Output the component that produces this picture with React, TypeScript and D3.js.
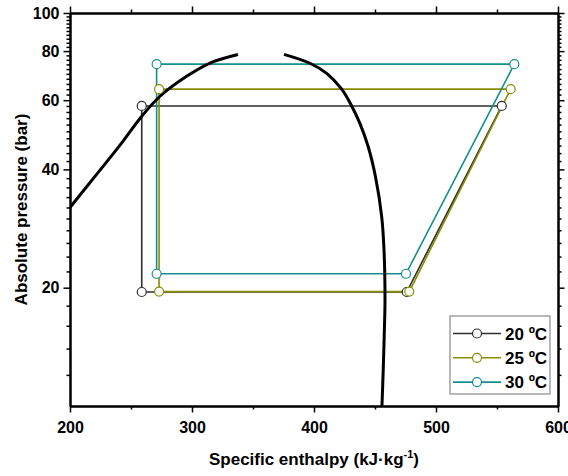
import React, { useRef, useEffect } from 'react';
import * as d3 from 'd3';

// cycle temperatures (legend)
const seriesNames = ['20 ºC', '25 ºC', '30 ºC'];
const seriesColors = ['#2e2e2e', '#8c8c00', '#12908e'];

// cycle corners [enthalpy kJ/kg, pressure bar]: gas cooler out, compressor out, compressor in, expansion out
const cycle20 = [[258.8, 58.0], [553.9, 58.0], [476.0, 19.5], [258.8, 19.5]];
const cycle25 = [[273.0, 64.0], [561.2, 64.0], [478.1, 19.55], [273.0, 19.55]];
const cycle30 = [[271.0, 74.1], [564.2, 74.1], [475.4, 21.7], [271.0, 21.7]];
const cycles = [cycle20, cycle25, cycle30];

// saturation dome
const liquidLine = [
  [200.0, 32.0], [220.5, 38.4], [241.0, 46.1], [259.0, 54.7], [273.8, 61.4],
  [295.9, 69.1], [314.8, 74.6], [337.7, 78.4]
];
const vaporLine = [
  [375.4, 78.5], [396.7, 74.5], [410.4, 70.2], [422.7, 64.0], [430.9, 58.0],
  [437.7, 52.3], [444.5, 45.6], [450.4, 38.3], [455.5, 30.3], [457.4, 24.9],
  [458.2, 18.6], [457.6, 15.3], [456.8, 12.5], [455.7, 10.0]
];

const xTicks = [200, 300, 400, 500, 600];
const xMinorTicks = [250, 350, 450, 550];
const yTicks = [20, 40, 60, 80, 100];
const yMinorTicks = [12, 14, 16, 18, 22, 24, 26, 28, 30, 32, 34, 36, 38, 42, 44, 46, 48, 50,
  52, 54, 56, 58, 62, 64, 66, 68, 70, 72, 74, 76, 78, 82, 84, 86, 88, 90, 92, 94, 96, 98];

function App() {
  const svgRef = useRef(null);

  useEffect(() => {
    const W = 568, H = 476;
    const margin = { top: 13, right: 10, bottom: 70, left: 70 };
    const width = W - margin.left - margin.right;
    const height = H - margin.top - margin.bottom;
    const font = 'Liberation Sans, Arial, sans-serif';

    const root = d3.select(svgRef.current);
    root.selectAll('*').remove();
    root.attr('width', W).attr('height', H);

    const svg = root.append('g')
      .attr('transform', 'translate(' + margin.left + ',' + margin.top + ')');

    const x = d3.scaleLinear().domain([200, 600]).range([0, width]);
    const y = d3.scaleLog().domain([10, 100]).range([height, 0]);

    svg.append('clipPath').attr('id', 'plotclip')
      .append('rect').attr('width', width).attr('height', height);

    const plot = svg.append('g').attr('clip-path', 'url(#plotclip)');

    // cycles
    const cycleLine = d3.line()
      .x(d => x(d[0]))
      .y(d => y(d[1]))
      .curve(d3.curveLinearClosed);

    cycles.forEach((c, i) => {
      plot.append('path')
        .datum(c)
        .attr('fill', 'none')
        .attr('stroke', seriesColors[i])
        .attr('stroke-width', 1.6)
        .attr('d', cycleLine);
    });

    // dome on top
    const domeLine = d3.line()
      .x(d => x(d[0]))
      .y(d => y(d[1]))
      .curve(d3.curveCatmullRom);
    [liquidLine, vaporLine].forEach(b => {
      plot.append('path')
        .datum(b)
        .attr('fill', 'none')
        .attr('stroke', '#000')
        .attr('stroke-width', 3)
        .attr('d', domeLine);
    });

    // markers
    cycles.forEach((c, i) => {
      svg.selectAll(null)
        .data(c)
        .enter()
        .append('circle')
        .attr('cx', d => x(d[0]))
        .attr('cy', d => y(d[1]))
        .attr('r', 4.5)
        .attr('fill', '#fff')
        .attr('stroke', seriesColors[i])
        .attr('stroke-width', 1.2);
    });

    // axes
    const styleAxis = (g, labels) => {
      g.select('.domain').attr('stroke', '#000').attr('stroke-width', 2);
      g.selectAll('.tick line').attr('stroke', '#000').attr('stroke-width', 1.5);
      g.selectAll('text')
        .attr('font-family', font)
        .attr('font-weight', 'bold')
        .attr('font-size', 16)
        .attr('fill', '#000');
      if (!labels) g.selectAll('text').remove();
    };

    const fmt = d3.format('d');
    svg.append('g').attr('transform', 'translate(0,' + height + ')')
      .call(d3.axisBottom(x).tickValues(xMinorTicks).tickSize(3.5).tickSizeOuter(0).tickFormat(() => ''))
      .call(g => styleAxis(g, false));
    svg.append('g').attr('transform', 'translate(0,' + height + ')')
      .call(d3.axisBottom(x).tickValues(xTicks).tickSize(6.5).tickSizeOuter(0).tickPadding(9).tickFormat(fmt))
      .call(g => styleAxis(g, true));

    svg.append('g')
      .call(d3.axisTop(x).tickValues(xMinorTicks).tickSize(3.5).tickSizeOuter(0))
      .call(g => styleAxis(g, false));
    svg.append('g')
      .call(d3.axisTop(x).tickValues(xTicks).tickSize(6.5).tickSizeOuter(0))
      .call(g => styleAxis(g, false));

    svg.append('g')
      .call(d3.axisLeft(y).tickValues(yMinorTicks).tickSize(3.5).tickSizeOuter(0))
      .call(g => styleAxis(g, false));
    svg.append('g')
      .call(d3.axisLeft(y).tickValues(yTicks).tickSize(6.5).tickSizeOuter(0).tickPadding(4).tickFormat(fmt))
      .call(g => styleAxis(g, true));

    svg.append('g').attr('transform', 'translate(' + width + ',0)')
      .call(d3.axisRight(y).tickValues(yMinorTicks).tickSize(3.5).tickSizeOuter(0))
      .call(g => styleAxis(g, false));
    svg.append('g').attr('transform', 'translate(' + width + ',0)')
      .call(d3.axisRight(y).tickValues(yTicks).tickSize(6.5).tickSizeOuter(0))
      .call(g => styleAxis(g, false));

    // axis titles
    const xt = svg.append('text')
      .attr('x', width / 2)
      .attr('y', height + 59)
      .attr('text-anchor', 'middle')
      .attr('font-family', font)
      .attr('font-weight', 'bold')
      .attr('font-size', 17);
    xt.append('tspan').text('Specific enthalpy (kJ·kg');
    xt.append('tspan').attr('dy', -7).attr('font-size', 11).text('-1');
    xt.append('tspan').attr('dy', 7).text(')');

    svg.append('text')
      .attr('transform', 'translate(' + (-43) + ',' + (height / 2) + ') rotate(-90)')
      .attr('text-anchor', 'middle')
      .attr('font-family', font)
      .attr('font-weight', 'bold')
      .attr('font-size', 17)
      .text('Absolute pressure (bar)');

    // legend
    const lg = svg.append('g').attr('transform', 'translate(' + (width - 108) + ',' + (height - 90) + ')');
    lg.append('rect')
      .attr('width', 100).attr('height', 78)
      .attr('fill', '#fff').attr('stroke', '#8a8a8a').attr('stroke-width', 1.2);
    seriesNames.forEach((name, i) => {
      const row = lg.append('g').attr('transform', 'translate(0,' + (17.5 + i * 24.3) + ')');
      row.append('line').attr('x1', 3).attr('x2', 51)
        .attr('stroke', seriesColors[i]).attr('stroke-width', 1.6);
      row.append('circle').attr('cx', 27).attr('r', 4.5)
        .attr('fill', '#fff').attr('stroke', seriesColors[i]).attr('stroke-width', 1.2);
      row.append('text').attr('x', 55).attr('dy', '0.36em')
        .attr('font-family', font).attr('font-weight', 'bold').attr('font-size', 17)
        .text(name);
    });
  }, []);

  return (
    <svg ref={svgRef} style={{ position: 'absolute', left: 0, top: 0 }}></svg>
  );
}

export default App;
